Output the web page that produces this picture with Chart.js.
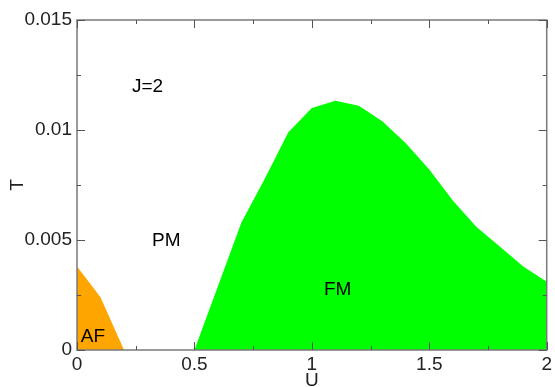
<!DOCTYPE html>
<html>
<head>
<meta charset="utf-8">
<script src="https://cdn.jsdelivr.net/npm/chart.js@4.4.1/dist/chart.umd.min.js"></script>
<style>
  html, body { margin: 0; padding: 0; background: #fff; }
  #wrap { width: 555px; height: 387px; }
</style>
</head>
<body>
<div id="wrap"><canvas id="phase" width="555" height="387"></canvas></div>
<script>
// Phase boundaries
const afU = [0, 0.05, 0.1, 0.15, 0.2];
const afT = [0.0038, 0.0031, 0.0024, 0.0012, 0];

const fmU = [0.5, 0.6, 0.7, 0.8, 0.9, 1.0, 1.1, 1.2, 1.3, 1.4, 1.5, 1.6, 1.7, 1.8, 1.9, 2.0];
const fmT = [0, 0.0029, 0.0058, 0.0078, 0.0099, 0.0110, 0.01133, 0.0111, 0.0104, 0.0094, 0.0082, 0.0068, 0.0056, 0.0047, 0.0038, 0.0031];

const xTicks = [0, 0.5, 1, 1.5, 2];
const yTicks = [0, 0.005, 0.01, 0.015];

// region labels: [text, U, T]
const regionLabels = [
    ['J=2', 0.30, 0.01195],
    ['PM', 0.38, 0.00495],
    ['FM', 1.11, 0.00273],
    ['AF', 0.068, 0.00059]
];

const toPoints = (us, ts) => us.map((u, i) => ({ x: u, y: ts[i] }));

const axisColor = '#7a7a7a';
const fontFamily = '"Liberation Sans", Arial, sans-serif';

// frame, inward ticks and region labels
const framePlugin = {
    id: 'frame',
    afterDatasetsDraw(chart) {
        const { ctx, chartArea: a, scales: { x, y } } = chart;
        ctx.save();
        ctx.strokeStyle = axisColor;
        ctx.lineWidth = 1.5;
        ctx.strokeRect(a.left, a.top, a.right - a.left, a.bottom - a.top);

        ctx.strokeStyle = '#555';
        ctx.lineWidth = 1;
        ctx.beginPath();
        for (let u = 0; u <= 2.0001; u += 0.25) {
            const px = Math.round(x.getPixelForValue(u)) + 0.5;
            const len = Math.abs(u * 2 - Math.round(u * 2)) < 1e-6 ? 8 : 4;
            ctx.moveTo(px, a.bottom); ctx.lineTo(px, a.bottom - len);
            ctx.moveTo(px, a.top); ctx.lineTo(px, a.top + len);
        }
        for (let t = 0; t <= 0.0150001; t += 0.0025) {
            const py = Math.round(y.getPixelForValue(t)) + 0.5;
            const len = Math.abs(t / 0.005 - Math.round(t / 0.005)) < 1e-6 ? 8 : 4;
            ctx.moveTo(a.left, py); ctx.lineTo(a.left + len, py);
            ctx.moveTo(a.right, py); ctx.lineTo(a.right - len, py);
        }
        ctx.stroke();

        ctx.fillStyle = '#000';
        ctx.font = '19px ' + fontFamily;
        ctx.textAlign = 'center';
        ctx.textBaseline = 'middle';
        regionLabels.forEach(([txt, u, t]) => {
            ctx.fillText(txt, x.getPixelForValue(u), y.getPixelForValue(t));
        });
        ctx.restore();
    }
};

new Chart(document.getElementById('phase').getContext('2d'), {
    type: 'line',
    data: {
        datasets: [
            {
                label: 'AF',
                data: toPoints(afU, afT),
                backgroundColor: '#ffa500',
                borderWidth: 0,
                pointRadius: 0,
                fill: 'origin'
            },
            {
                label: 'FM',
                data: toPoints(fmU, fmT),
                backgroundColor: '#00ff00',
                borderWidth: 0,
                pointRadius: 0,
                fill: 'origin'
            }
        ]
    },
    options: {
        responsive: false,
        animation: false,
        devicePixelRatio: 1,
        layout: { padding: { top: 20, right: 5, bottom: 0, left: 0 } },
        plugins: {
            legend: { display: false },
            tooltip: { enabled: false }
        },
        scales: {
            x: {
                type: 'linear',
                min: 0,
                max: 2,
                afterFit: s => { s.height = 37; },
                afterBuildTicks: s => { s.ticks = xTicks.map(v => ({ value: v })); },
                grid: { display: false, drawTicks: false },
                border: { display: false },
                ticks: { padding: 3, color: '#222', font: { family: fontFamily, size: 19 }, maxRotation: 0, callback: v => String(v) },
                title: { display: true, text: 'U', color: '#222', font: { family: fontFamily, size: 19 }, padding: { top: 0, bottom: -5 } }
            },
            y: {
                type: 'linear',
                min: 0,
                max: 0.015,
                afterFit: s => { s.width = 77; },
                afterBuildTicks: s => { s.ticks = yTicks.map(v => ({ value: v })); },
                grid: { display: false, drawTicks: false },
                border: { display: false },
                ticks: { padding: 5, color: '#222', font: { family: fontFamily, size: 19 }, callback: v => String(v) },
                title: { display: true, text: 'T', color: '#222', font: { family: fontFamily, size: 19 }, padding: { top: 6, bottom: 0 } }
            }
        }
    },
    plugins: [framePlugin]
});
</script>
</body>
</html>
